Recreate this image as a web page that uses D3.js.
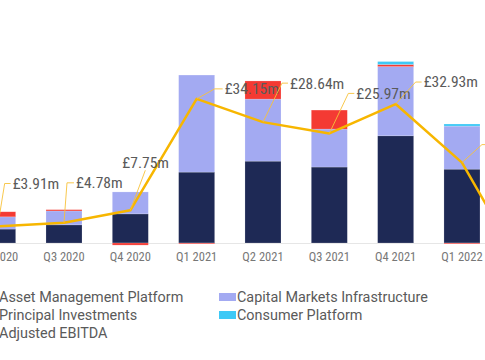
<!DOCTYPE html>
<html>
<head>
<meta charset="utf-8">
<script src="https://cdn.jsdelivr.net/npm/d3@7"></script>
<style>
  html, body { margin: 0; padding: 0; background: #fff; overflow: hidden; }
  svg { display: block; }
</style>
</head>
<body>
<svg id="chart" width="485" height="360"></svg>
<script>
// ---- data (£m) ----
const categories = ["Q2 2020","Q3 2020","Q4 2020","Q1 2021","Q2 2021","Q3 2021","Q4 2021","Q1 2022","Q2 2022"];
const assetManagement      = [3.3, 4.3, 6.9, 16.8, 19.4, 18.0, 25.4, 17.5, 14.0];
const capitalMarkets       = [2.9, 3.3, 5.2, 23.0, 14.7, 9.0, 16.4, 10.2, 4.0];
const principalInvestments = [1.2, 0.3, -0.5, -0.2, 4.3, 4.5, 0.5, -0.2, -20.0];
const consumerPlatform     = [0.0, 0.0, 0.0, 0.0, 0.0, 0.0, 0.7, 0.5, 0.3];
const adjustedEbitda       = [3.91, 4.78, 7.75, 34.15, 28.64, 25.97, 32.93, 19.05, -8.3];
const ebitdaLabels         = ["£3.91m","£4.78m","£7.75m","£34.15m","£28.64m","£25.97m","£32.93m","£19.05m","-£8.30m"];
const seriesNames          = ["Asset Management Platform","Capital Markets Infrastructure","Principal Investments","Consumer Platform","Adjusted EBITDA"];

// ---- styles / layout (not data) ----
const colors = {
  "Asset Management Platform": "#1e2955",
  "Capital Markets Infrastructure": "#a3aaf2",
  "Principal Investments": "#f43a33",
  "Consumer Platform": "#3ec9f6",
  "Adjusted EBITDA": "#f7b600"
};
// leader elbow offsets from the line point [dx, dy], and text offset from elbow [tx, ty]
const labelLayout = [
  [7,-43, 8,0],[3,-40, 9,0],[15,-40,-23,-8],[18,-10, 10,0],[19,-39, 8,0],
  [19,-40, 8,0],[20,-22, 8,0],[20,-18, 9,0],[20,-20, 9,0]
];

const svg = d3.select("#chart");
const W = 485, H = 360;

const x = d3.scaleBand().domain(categories)
  .range([-35.5, -35.5 + 66.33 * categories.length])
  .paddingInner(0.457).paddingOuter(0.2285);
const y = d3.scaleLinear().domain([-10, 40]).range([243 + 42.2, 243 - 168.8]);

const keys = seriesNames.slice(0, 4);
const rows = categories.map((c, i) => ({
  cat: c,
  "Asset Management Platform": assetManagement[i],
  "Capital Markets Infrastructure": capitalMarkets[i],
  "Principal Investments": principalInvestments[i],
  "Consumer Platform": consumerPlatform[i]
}));
const stack = d3.stack().keys(keys).offset(d3.stackOffsetDiverging);
const stacked = stack(rows);

// baseline
svg.append("line")
  .attr("x1", 0).attr("x2", W)
  .attr("y1", y(0) + 0.5).attr("y2", y(0) + 0.5)
  .attr("stroke", "#e6e6e6").attr("stroke-width", 1);

// bars
svg.append("g").selectAll("g").data(stacked).join("g")
  .attr("fill", d => colors[d.key])
  .selectAll("rect").data(d => d).join("rect")
  .attr("x", d => x(d.data.cat))
  .attr("width", x.bandwidth())
  .attr("y", d => y(Math.max(d[0], d[1])))
  .attr("height", d => Math.abs(y(d[0]) - y(d[1])))
  .attr("stroke", "rgba(255,255,255,0.3)")
  .attr("stroke-width", 0.6);

// x axis labels
const xAxis = d3.axisBottom(x).tickSize(0).tickPadding(8);
const gx = svg.append("g").attr("transform", `translate(0,${y(0) + 1})`).call(xAxis);
gx.select(".domain").remove();
gx.selectAll("text")
  .attr("font-family", "'Liberation Sans Narrow', 'Roboto Condensed', 'Liberation Sans', sans-serif")
  .attr("font-size", 12.5).attr("fill", "#777");

// EBITDA line
const cx = c => x(c) + x.bandwidth() / 2;
const line = d3.line().x((d, i) => cx(categories[i])).y(d => y(d));
svg.append("path").datum(adjustedEbitda)
  .attr("d", line)
  .attr("fill", "none")
  .attr("stroke", colors["Adjusted EBITDA"])
  .attr("stroke-width", 2.5)
  .attr("stroke-linejoin", "round");

// data labels with leader lines
const lab = svg.append("g");
adjustedEbitda.forEach((v, i) => {
  const px = cx(categories[i]), py = y(v);
  const [dx, dy, tx, ty] = labelLayout[i];
  const ex = px + dx, ey = py + dy;
  const pts = tx > 0 ? [[px, py], [ex, ey], [ex + tx - 2, ey]] : [[px, py], [ex, ey]];
  lab.append("path")
    .attr("d", d3.line()(pts))
    .attr("fill", "none")
    .attr("stroke", "#f7c23a")
    .attr("stroke-width", 0.9);
  lab.append("text")
    .attr("x", ex + tx).attr("y", ey + ty)
    .attr("dy", "0.35em")
    .attr("font-family", "'Liberation Sans Narrow', 'Roboto Condensed', 'Liberation Sans', sans-serif")
    .attr("font-size", 15.5)
    .attr("fill", "#5a5a5a")
    .text(ebitdaLabels[i]);
});

// legend
const legendPos = [[-1, 297], [237, 297], [-1, 315], [237, 315], [-1, 333]];
const lg = svg.append("g");
seriesNames.forEach((name, i) => {
  const [lx, ly] = legendPos[i];
  if (name === "Adjusted EBITDA") {
    lg.append("line").attr("x1", lx - 18).attr("x2", lx - 2)
      .attr("y1", ly).attr("y2", ly)
      .attr("stroke", colors[name]).attr("stroke-width", 2.5);
  } else {
    lg.append("rect").attr("x", lx - 18).attr("y", ly - 4)
      .attr("width", 17).attr("height", 8)
      .attr("fill", colors[name]);
  }
  lg.append("text").attr("x", lx).attr("y", ly).attr("dy", "0.35em")
    .attr("font-family", "Roboto, 'Open Sans', sans-serif")
    .attr("font-size", 14.4).attr("fill", "#5a5a5a")
    .text(name);
});
</script>
</body>
</html>
